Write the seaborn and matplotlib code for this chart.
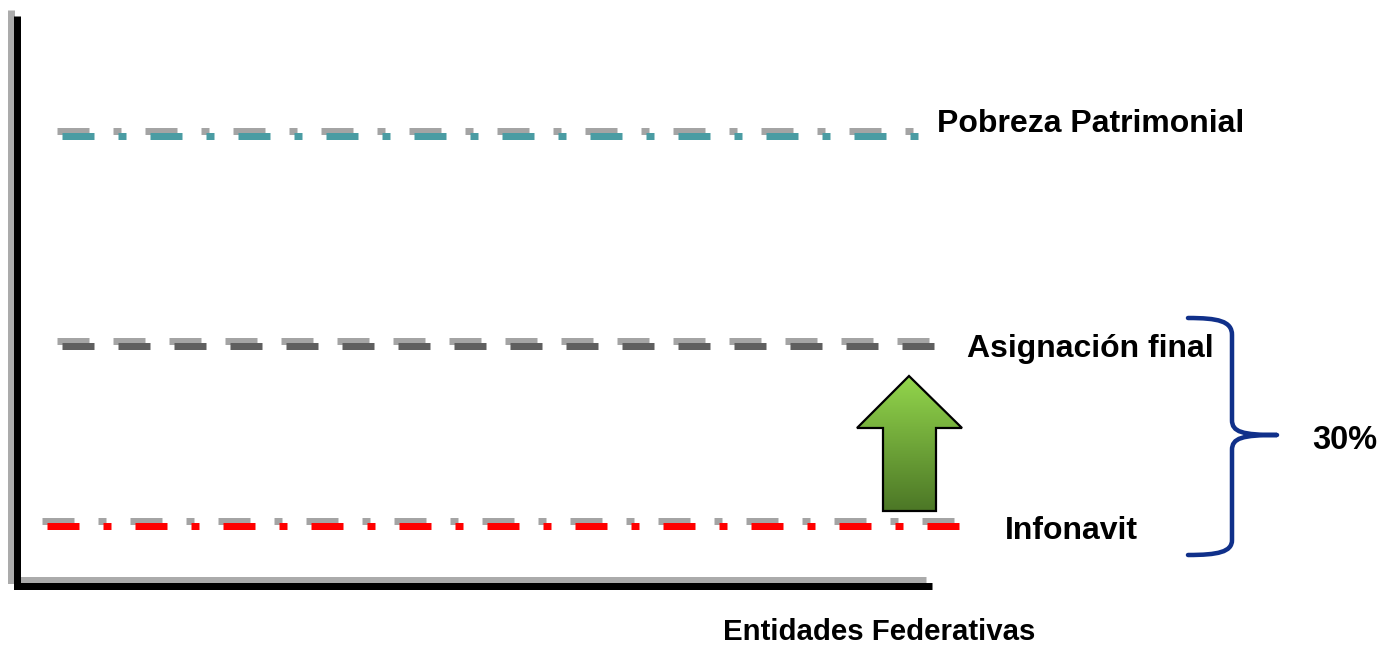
import numpy as np
import pandas as pd
import matplotlib
matplotlib.use("Agg")
import matplotlib.pyplot as plt
import matplotlib.patheffects as pe
from matplotlib.patches import Polygon, PathPatch
from matplotlib.path import Path
import seaborn as sns

# ---- data (schematic levels, in figure pixel units) ----
series = ["Pobreza Patrimonial", "Asignación final", "Infonavit"]
levels = [135.5, 345.5, 525.5]
x_start = [62, 62, 47]
x_end = [918, 934, 959]
colors = ["#4A9CA3", "#5F5F5F", "#FF0000"]
label_x = [937, 967, 1005]
label_base = [132, 357, 539]
brace_label = "30%"
x_axis_label = "Entidades Federativas"

sns.set_theme(style="white")
plt.rcParams['font.family'] = ['Liberation Sans', 'DejaVu Sans']
plt.rcParams['lines.scale_dashes'] = False

W, H = 1381, 646
fig = plt.figure(figsize=(W / 100, H / 100), dpi=100)
ax = fig.add_axes([0, 0, 1, 1])
px = 72 / 100  # points per pixel

rows = []
for s, y, x0, x1 in zip(series, levels, x_start, x_end):
    rows.append(dict(serie=s, x=x0, y=y))
    rows.append(dict(serie=s, x=x1, y=y))
df = pd.DataFrame(rows)

dash_mixed = (32 * px, 24 * px, 8 * px, 24 * px)
dash_even = (32 * px, 24 * px)
sns.lineplot(data=df, x="x", y="y", hue="serie", style="serie",
             palette=dict(zip(series, colors)),
             dashes={series[0]: dash_mixed, series[1]: dash_even, series[2]: dash_mixed},
             linewidth=7 * px, legend=False, ax=ax, sort=False, estimator=None)

shadow = [pe.SimpleLineShadow(offset=(-5 * px, 5 * px), shadow_color="#A4A4A4", alpha=1, rho=1),
          pe.Normal()]
for ln in ax.lines:
    ln.set_path_effects(shadow)
    ln.set_solid_capstyle("butt")
    ln.set_dash_capstyle("butt")

# axis frame (left + bottom) with grey shadow
frame, = ax.plot([17.5, 17.5, 932], [16, 585.5, 585.5], color="black",
                 linewidth=7 * px, solid_joinstyle="miter", solid_capstyle="butt")
frame.set_path_effects([pe.SimpleLineShadow(offset=(-6 * px, 6 * px), shadow_color="#ABABAB",
                                            alpha=1, rho=1), pe.Normal()])

# labels for series
for s, lx, ly in zip(series, label_x, label_base):
    ax.text(lx, ly, s, fontsize=23, fontweight="bold", color="black",
            ha="left", va="baseline")
ax.text(723, 640, x_axis_label, fontsize=21.2, fontweight="bold", color="black",
        ha="left", va="baseline")
ax.text(1312, 449, brace_label, fontsize=23.5, fontweight="bold", color="black",
        ha="left", va="baseline")

# green up arrow with gradient
arrow_pts = [(909, 376), (962, 428), (936, 428), (936, 511), (883, 511), (883, 428), (857, 428)]
poly = Polygon(arrow_pts, closed=True, facecolor="none", edgecolor="black", linewidth=1.6, zorder=4)
ax.add_patch(poly)
top_c = np.array([0x93, 0xD6, 0x4C]) / 255
bot_c = np.array([0x4C, 0x77, 0x26]) / 255
t = np.linspace(0, 1, 256)[:, None, None]
grad = top_c[None, None, :] * (1 - t) + bot_c[None, None, :] * t
im = ax.imshow(grad, extent=(857, 962, 511, 376), origin="upper", aspect="auto", zorder=3)
clip_poly = Polygon(arrow_pts, closed=True, transform=ax.transData)
im.set_clip_path(clip_poly)

# brace
verts = [(1188, 318),
         (1218, 318), (1232, 321), (1232, 335),
         (1232, 420),
         (1232, 432), (1242, 435), (1277, 435),
         (1242, 435), (1232, 438), (1232, 450),
         (1232, 540),
         (1232, 552), (1218, 555), (1188, 555)]
codes = [Path.MOVETO,
         Path.CURVE4, Path.CURVE4, Path.CURVE4,
         Path.LINETO,
         Path.CURVE4, Path.CURVE4, Path.CURVE4,
         Path.CURVE4, Path.CURVE4, Path.CURVE4,
         Path.LINETO,
         Path.CURVE4, Path.CURVE4, Path.CURVE4]
brace = PathPatch(Path(verts, codes), facecolor="none", edgecolor="#10308A",
                  linewidth=4.5 * px, capstyle="round", joinstyle="round")
ax.add_patch(brace)

ax.set_xlim(0, W)
ax.set_ylim(H, 0)
ax.axis("off")

fig.savefig("out.png", dpi=100)
